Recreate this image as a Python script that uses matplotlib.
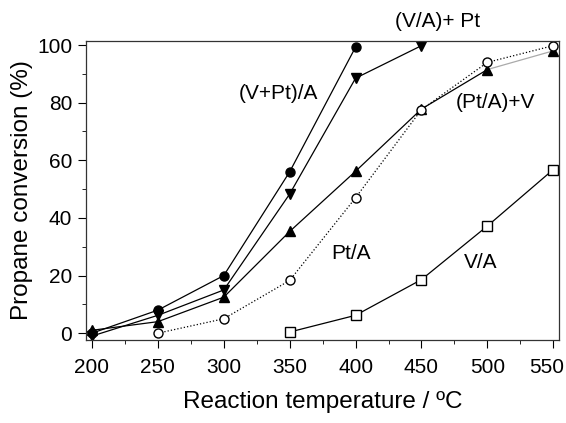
import numpy as np
import matplotlib.pyplot as plt
import matplotlib.transforms as mtransforms
from matplotlib.ticker import MultipleLocator

plt.rcParams['font.family'] = ['Liberation Sans', 'DejaVu Sans']

# data
temp = [200, 250, 300, 350, 400, 450, 500, 550]
vpt_a = [0, 8, 20, 56, 99.3]                 # (V+Pt)/A
va_pt = [-1, 6.2, 15, 48.3, 88.5, 99.8]      # (V/A)+Pt
pta_v = [1, 4, 12.5, 35.3, 56.2, 77.8, 91.5, 98]  # (Pt/A)+V
pt_a_t = [250, 300, 350, 400, 450, 500, 550]
pt_a = [0, 5, 18.3, 47, 77.6, 94, 99.8]      # Pt/A
va_t = [350, 400, 450, 500, 550]
va = [0.4, 6.2, 18.6, 37.2, 56.8]            # V/A

fig = plt.figure(figsize=(5.66, 4.23), dpi=100)
ax = fig.add_axes([0.152, 0.196, 0.836, 0.707])

ms = 6.5
ax.plot(temp[:5], vpt_a, '-o', color='black', lw=0.9, ms=ms, mfc='black')
ax.plot(temp[:6], va_pt, '-v', color='black', lw=0.9, ms=ms, mfc='black')
ax.plot(temp[:7], pta_v[:7], '-', color='black', lw=0.9)
ax.plot(temp[6:], pta_v[6:], '-', color='#aaaaaa', lw=0.9)
ax.plot(temp, pta_v, '^', color='black', ms=ms, mfc='black')
ax.plot(pt_a_t, pt_a, ':o', color='black', lw=0.9, ms=ms, mfc='white')
ax.plot(va_t, va, '-s', color='black', lw=0.9, ms=ms, mfc='white')

ax.set_xlim(195.5, 554.5)
ax.set_ylim(-2.4, 101.4)
ax.set_xticks(temp)
ax.xaxis.set_minor_locator(MultipleLocator(25))
ax.yaxis.set_major_locator(MultipleLocator(20))
ax.yaxis.set_minor_locator(MultipleLocator(10))
ax.tick_params(which='major', direction='out', length=6, labelsize=15, pad=7)
ax.tick_params(which='minor', direction='out', length=3)
ax.tick_params(axis='y', pad=4)

ax.set_xlabel('Reaction temperature / ºC', fontsize=17.5, labelpad=10)
ax.set_ylabel('Propane conversion (%)', fontsize=17.5, labelpad=3)

kw = dict(transform=ax.transAxes, fontsize=15, ha='center', va='center')
ax.text(0.406, 0.826, '(V+Pt)/A', **kw)
ax.text(0.742, 1.064, '(V/A)+ Pt', **kw)
ax.text(0.865, 0.793, '(Pt/A)+V', **kw)
ax.text(0.56, 0.288, 'Pt/A', **kw)
ax.text(0.833, 0.258, 'V/A', **kw)

for s in ax.spines.values():
    s.set_linewidth(0.9)
    s.set_color('#333333')

# nudge the last x tick label left so it stays inside the figure
fig.canvas.draw()
last = ax.xaxis.get_major_ticks()[-1].label1
last.set_transform(last.get_transform() +
                   mtransforms.ScaledTranslation(-5 / 72, 0, fig.dpi_scale_trans))

fig.savefig('out.png', dpi=100)
